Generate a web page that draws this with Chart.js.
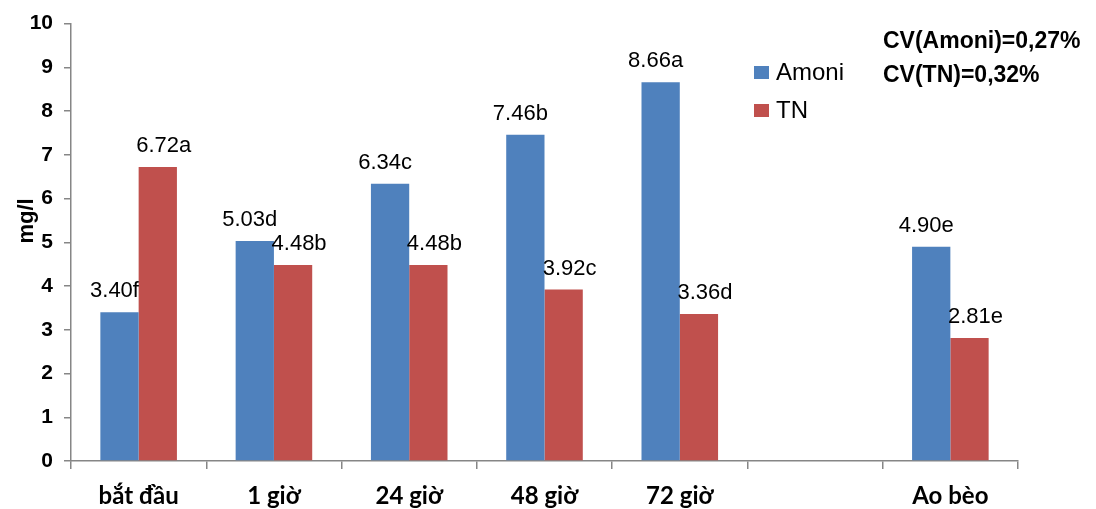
<!DOCTYPE html>
<html>
<head>
<meta charset="utf-8">
<script src="https://cdn.jsdelivr.net/npm/chart.js@4"></script>
<style>
  body { margin: 0; background: #fff; }
</style>
</head>
<body>
<canvas id="chart" width="1096" height="509"></canvas>
<script>
// Data
var categories = ['bắt đầu', '1 giờ', '24 giờ', '48 giờ', '72 giờ', '', 'Ao bèo'];
var amoni = [3.40, 5.03, 6.34, 7.46, 8.66, null, 4.90];
var tn = [6.72, 4.48, 4.48, 3.92, 3.36, null, 2.81];
var amoniLetters = ['f', 'd', 'c', 'b', 'a', '', 'e'];
var tnLetters = ['a', 'b', 'b', 'c', 'd', '', 'e'];
var seriesNames = ['Amoni', 'TN'];
var cvLines = ['CV(Amoni)=0,27%', 'CV(TN)=0,32%'];
var yTitle = 'mg/l';

var blue = '#4F81BD';
var red = '#C0504D';
var axisColor = '#868686';

// labels above bars (pushed a little apart like excel does)
var barLabels = {
    id: 'barLabels',
    afterDatasetsDraw: function(chart) {
        var ctx = chart.ctx;
        var letters = [amoniLetters, tnLetters];
        var shift = [-5, 6];
        ctx.save();
        ctx.font = '22px "Liberation Sans", Arial, sans-serif';
        ctx.fillStyle = '#000';
        ctx.textAlign = 'center';
        ctx.textBaseline = 'alphabetic';
        chart.data.datasets.forEach(function(ds, i) {
            var meta = chart.getDatasetMeta(i);
            meta.data.forEach(function(bar, j) {
                var v = ds.data[j];
                if (v == null) return;
                ctx.fillText(v.toFixed(2) + letters[i][j], bar.x + shift[i], bar.y - 15);
            });
        });
        ctx.restore();
    }
};

// legend, CV notes and axis title
var extras = {
    id: 'extras',
    afterDraw: function(chart) {
        var ctx = chart.ctx;
        ctx.save();
        // legend
        var cols = [blue, red];
        ctx.font = '24px "Liberation Sans", Arial, sans-serif';
        ctx.textBaseline = 'middle';
        ctx.textAlign = 'left';
        for (var i = 0; i < seriesNames.length; i++) {
            var y = 72 + i * 38;
            ctx.fillStyle = cols[i];
            ctx.fillRect(754, y - 6, 15, 13);
            ctx.fillStyle = '#000';
            ctx.fillText(seriesNames[i], 776, y + 1);
        }
        // CV
        ctx.font = 'bold 23px "Liberation Sans", Arial, sans-serif';
        ctx.textBaseline = 'alphabetic';
        ctx.fillText(cvLines[0], 883, 48);
        ctx.fillText(cvLines[1], 883, 82);
        // y title
        ctx.translate(27, 221);
        ctx.rotate(-Math.PI / 2);
        ctx.textAlign = 'center';
        ctx.textBaseline = 'middle';
        ctx.font = 'bold 22px "Liberation Sans", Arial, sans-serif';
        ctx.fillText(yTitle, 0, 0);
        ctx.restore();
    }
};

var ctx = document.getElementById('chart').getContext('2d');
var myChart = new Chart(ctx, {
    type: 'bar',
    data: {
        labels: categories,
        datasets: [{
            label: seriesNames[0],
            data: amoni,
            backgroundColor: blue,
            categoryPercentage: 0.566,
            barPercentage: 1
        }, {
            label: seriesNames[1],
            data: tn,
            backgroundColor: red,
            categoryPercentage: 0.566,
            barPercentage: 1
        }]
    },
    options: {
        responsive: false,
        animation: false,
        layout: { padding: { top: 19, right: 78, left: 0, bottom: 0 } },
        plugins: {
            legend: { display: false },
            tooltip: { enabled: false }
        },
        scales: {
            x: {
                grid: { offset: true, drawOnChartArea: false, tickLength: 8, color: axisColor, lineWidth: 1.5 },
                border: { color: axisColor, width: 1.5 },
                ticks: {
                    color: '#000',
                    padding: 13,
                    font: { family: 'Lato, "Open Sans", sans-serif', weight: 'bold', size: 24 }
                },
                afterFit: function(s) { s.height = 48; }
            },
            y: {
                min: 0,
                max: 10,
                grid: { drawOnChartArea: false, tickLength: 7, color: axisColor, lineWidth: 1.5 },
                border: { color: axisColor, width: 1.5 },
                ticks: {
                    stepSize: 1,
                    color: '#000',
                    padding: 11,
                    font: { family: '"Liberation Sans", Arial, sans-serif', weight: 'bold', size: 21 }
                },
                afterFit: function(s) { s.width = 71; }
            }
        }
    },
    plugins: [barLabels, extras]
});
</script>
</body>
</html>
